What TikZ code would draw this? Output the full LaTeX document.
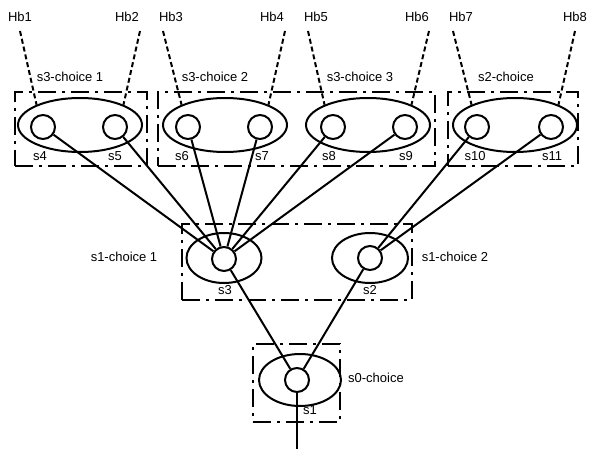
\documentclass[tikz,border=0pt]{standalone}
\usepackage{fontspec}
\setmainfont{Liberation Sans}
\usetikzlibrary{shapes.geometric, positioning}

\begin{document}
\begin{tikzpicture}[
    x=1pt, y=-1pt,
    every node/.style={font=\fontsize{13}{15}\selectfont},
    choicebox/.style={rectangle, draw=black, line width=2pt, dash pattern=on 18pt off 6pt on 3pt off 6pt, minimum height=74pt},
    cluster/.style={ellipse, draw=black, line width=2pt, inner sep=0pt},
    state/.style={circle, draw=black, line width=2pt, inner sep=0pt, minimum size=24pt},
    link/.style={line width=2pt},
    hbline/.style={line width=2pt, dash pattern=on 5pt off 3pt}
]
\useasboundingbox (0,0) rectangle (591,449);

% choice boxes
\node[choicebox, minimum width=132pt] (box1) at (81,129) {};
\node[choicebox, minimum width=277pt] (box23) at (296.5,129) {};
\node[choicebox, minimum width=130pt] (box4) at (513,129) {};
\node[choicebox, minimum width=230pt, minimum height=76pt] (boxm) at (297,262) {};
\node[choicebox, minimum width=87pt, minimum height=78pt] (boxb) at (296.5,383) {};

% clusters
\node[cluster, minimum width=124pt, minimum height=54pt] (e1) at (80,125) {};
\node[cluster, minimum width=124pt, minimum height=54pt] (e2) at (225,125) {};
\node[cluster, minimum width=124pt, minimum height=54pt] (e3) at (368,125) {};
\node[cluster, minimum width=124pt, minimum height=54pt] (e4) at (515,125) {};
\node[cluster, minimum width=75pt, minimum height=50pt] (e5) at (224,258) {};
\node[cluster, minimum width=76pt, minimum height=50pt] (e6) at (370,258) {};
\node[cluster, minimum width=82pt, minimum height=52pt] (e7) at (300,380) {};

% states
\node[state] (s4) at (43,127) {};
\node[state] (s5) at (115,127) {};
\node[state] (s6) at (188,127) {};
\node[state] (s7) at (260,127) {};
\node[state] (s8) at (333,127) {};
\node[state] (s9) at (405,127) {};
\node[state] (s10) at (477,127) {};
\node[state] (s11) at (551,127) {};
\node[state] (s3) at (224,259) {};
\node[state] (s2) at (370,258) {};
\node[state] (s1) at (297,380) {};

% state labels
\node (l4) at (40,156) {s4};
\node (l5) at (115,156) {s5};
\node (l6) at (182,156) {s6};
\node (l7) at (262,156) {s7};
\node (l8) at (329,156) {s8};
\node (l9) at (406,156) {s9};
\node (l10) at (475,156) {s10};
\node (l11) at (552,156) {s11};
\node (l3) at (225,290) {s3};
\node (l2) at (370,290) {s2};
\node (l1) at (310,410) {s1};

% choice labels
\node (c1) at (70,77) {s3-choice 1};
\node (c2) at (215,77) {s3-choice 2};
\node (c3) at (360,77) {s3-choice 3};
\node (c4) at (506,77) {s2-choice};
\node (c5) at (124,257) {s1-choice 1};
\node (c6) at (455,257) {s1-choice 2};
\node (c7) at (376,378) {s0-choice};

% hb labels
\node (hb1) at (20,17) {Hb1};
\node (hb2) at (127,17) {Hb2};
\node (hb3) at (171,17) {Hb3};
\node (hb4) at (272,17) {Hb4};
\node (hb5) at (316,17) {Hb5};
\node (hb6) at (417,17) {Hb6};
\node (hb7) at (461,17) {Hb7};
\node (hb8) at (575,17) {Hb8};

\coordinate (t1) at (20,31);
\coordinate (t2) at (140,31);
\coordinate (t3) at (163,31);
\coordinate (t4) at (285,31);
\coordinate (t5) at (308,31);
\coordinate (t6) at (429,31);
\coordinate (t7) at (453,31);
\coordinate (t8) at (575,31);
\coordinate (root) at (297,449);

\draw[hbline] (t1) -- (e1.155);
\draw[hbline] (t2) -- (e1.25);
\draw[hbline] (t3) -- (e2.155);
\draw[hbline] (t4) -- (e2.25);
\draw[hbline] (t5) -- (e3.155);
\draw[hbline] (t6) -- (e3.25);
\draw[hbline] (t7) -- (e4.155);
\draw[hbline] (t8) -- (e4.25);

\foreach \t in {s4,s5,s6,s7,s8,s9}
    \draw[link] (s3) -- (\t);
\draw[link] (s2) -- (s10);
\draw[link] (s2) -- (s11);
\draw[link] (s1) -- (s3);
\draw[link] (s1) -- (s2);
\draw[link] (s1) -- (root);

\end{tikzpicture}
\end{document}
